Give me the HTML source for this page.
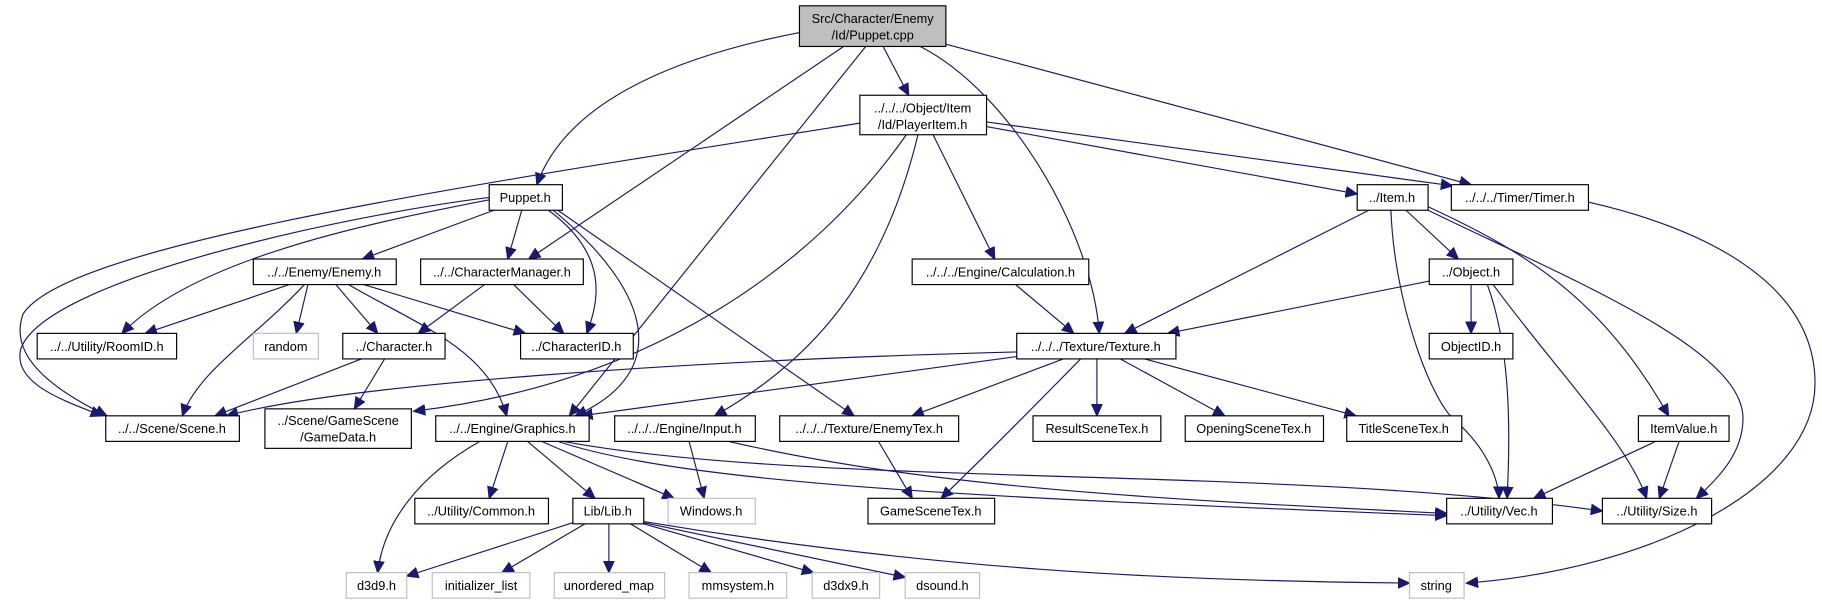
<!DOCTYPE html>
<html><head><meta charset="utf-8"><style>
html,body{margin:0;padding:0;background:#fff;}
svg{display:block;}
text{font-family:"Liberation Sans",sans-serif;font-size:11px;fill:#000;}
.e{fill:none;stroke:#191970;stroke-width:1;}
.b{fill:#fff;stroke:#000;stroke-width:1;}
.g{fill:#fff;stroke:#bfbfbf;stroke-width:1;}
</style></head><body>
<svg width="1822" height="604" viewBox="0 0 1568 520" preserveAspectRatio="none" xmlns="http://www.w3.org/2000/svg">
<defs><marker id="a" markerUnits="userSpaceOnUse" markerWidth="12" markerHeight="10" refX="10" refY="5" orient="auto"><path d="M0,0.5 L10,5 L0,9.5 z" fill="#191970" stroke="#191970"/></marker></defs>
<g marker-end="url(#a)">
<path class="e" d="M688,28 C600,45 490,80 462,159"/>
<path class="e" d="M726,40 L455,223"/>
<path class="e" d="M745,40 L490,358"/>
<path class="e" d="M760,40 L782,82"/>
<path class="e" d="M792,40 C870,80 940,200 946,287"/>
<path class="e" d="M814,38 L1266,159"/>
<path class="e" d="M740,106 C400,160 60,210 20,270 C5,310 55,340 92,358"/>
<path class="e" d="M780,116 C700,230 560,330 356,354"/>
<path class="e" d="M790,116 C760,240 700,310 615,358"/>
<path class="e" d="M803,116 L856,223"/>
<path class="e" d="M849,109 L1168,167"/>
<path class="e" d="M849,105 L1250,160"/>
<path class="e" d="M421,170 C300,185 40,240 18,300 C10,330 55,345 88,358"/>
<path class="e" d="M421,172 C330,190 170,220 105,287"/>
<path class="e" d="M425,181 L312,223"/>
<path class="e" d="M449,181 L437,223"/>
<path class="e" d="M472,181 C525,220 515,260 505,287"/>
<path class="e" d="M476,181 C560,250 580,320 495,358"/>
<path class="e" d="M480,181 L735,358"/>
<path class="e" d="M249,245 L125,287"/>
<path class="e" d="M265,245 L255,287"/>
<path class="e" d="M289,245 L325,287"/>
<path class="e" d="M313,245 L452,287"/>
<path class="e" d="M262,245 C220,290 170,320 157,358"/>
<path class="e" d="M300,245 C360,280 420,300 436,358"/>
<path class="e" d="M417,245 L360,287"/>
<path class="e" d="M442,245 L485,287"/>
<path class="e" d="M311,309 L185,358"/>
<path class="e" d="M331,309 L305,352"/>
<path class="e" d="M413,380 C360,410 330,450 325,493"/>
<path class="e" d="M437,380 L421,429"/>
<path class="e" d="M454,380 L512,429"/>
<path class="e" d="M466,380 L580,429"/>
<path class="e" d="M480,380 C600,420 900,430 1245,444"/>
<path class="e" d="M485,380 C700,420 1100,400 1379,440"/>
<path class="e" d="M593,380 L606,429"/>
<path class="e" d="M627,380 C800,420 1000,430 1245,442"/>
<path class="e" d="M756,380 L785,429"/>
<path class="e" d="M493,450 L350,496"/>
<path class="e" d="M505,450 L432,493"/>
<path class="e" d="M524,450 L524,493"/>
<path class="e" d="M541,450 L612,493"/>
<path class="e" d="M554,451 L700,493"/>
<path class="e" d="M554,450 L779,497"/>
<path class="e" d="M554,449 C800,490 1000,500 1213,502"/>
<path class="e" d="M874,245 L924,287"/>
<path class="e" d="M1178,181 L968,287"/>
<path class="e" d="M1197,181 C1200,260 1230,340 1250,360 C1285,390 1290,420 1290,429"/>
<path class="e" d="M1210,181 L1255,223"/>
<path class="e" d="M1229,178 C1320,220 1380,260 1436,358"/>
<path class="e" d="M1229,181 C1350,240 1500,300 1500,360 C1500,390 1480,410 1460,429"/>
<path class="e" d="M1367,174 C1480,200 1562,250 1562,330 C1562,420 1420,490 1262,502"/>
<path class="e" d="M1230,242 L1005,287"/>
<path class="e" d="M1266,245 L1266,287"/>
<path class="e" d="M1280,245 C1300,300 1300,370 1297,429"/>
<path class="e" d="M1285,245 C1340,320 1400,380 1417,429"/>
<path class="e" d="M875,303 C600,310 300,330 195,358"/>
<path class="e" d="M875,307 L500,358"/>
<path class="e" d="M915,309 L785,358"/>
<path class="e" d="M930,309 C880,360 840,400 810,429"/>
<path class="e" d="M944,309 L944,358"/>
<path class="e" d="M964,309 L1054,358"/>
<path class="e" d="M985,309 L1167,358"/>
<path class="e" d="M1425,380 L1320,429"/>
<path class="e" d="M1445,380 L1428,429"/>
</g>
<g text-anchor="middle">
<rect x="688" y="5" width="126" height="35" fill="#bfbfbf" stroke="#000"/>
<text x="751" y="20">Src/Character/Enemy</text><text x="751" y="34">/Id/Puppet.cpp</text>
<rect class="b" x="740" y="82" width="109" height="34"/>
<text x="794" y="97">../../../Object/Item</text><text x="794" y="111">/Id/PlayerItem.h</text>
<rect class="b" x="421" y="159" width="63" height="22"/><text x="452" y="174">Puppet.h</text>
<rect class="b" x="1168" y="159" width="61" height="22"/><text x="1198" y="174">../Item.h</text>
<rect class="b" x="1249" y="159" width="118" height="22"/><text x="1308" y="174">../../../Timer/Timer.h</text>
<rect class="b" x="218" y="223" width="123" height="22"/><text x="279" y="238">../../Enemy/Enemy.h</text>
<rect class="b" x="362" y="223" width="140" height="22"/><text x="432" y="238">../../CharacterManager.h</text>
<rect class="b" x="785" y="223" width="152" height="22"/><text x="861" y="238">../../../Engine/Calculation.h</text>
<rect class="b" x="1230" y="223" width="72" height="22"/><text x="1266" y="238">../Object.h</text>
<rect class="b" x="32" y="287" width="120" height="22"/><text x="92" y="302">../../Utility/RoomID.h</text>
<rect class="g" x="218" y="287" width="56" height="22"/><text x="246" y="302">random</text>
<rect class="b" x="295" y="287" width="88" height="22"/><text x="339" y="302">../Character.h</text>
<rect class="b" x="448" y="287" width="97" height="22"/><text x="496" y="302">../CharacterID.h</text>
<rect class="b" x="875" y="287" width="137" height="22"/><text x="943" y="302">../../../Texture/Texture.h</text>
<rect class="b" x="1230" y="287" width="72" height="22"/><text x="1266" y="302">ObjectID.h</text>
<rect class="b" x="91" y="358" width="115" height="22"/><text x="148" y="373">../../Scene/Scene.h</text>
<rect class="b" x="228" y="352" width="126" height="34"/>
<text x="291" y="366">../Scene/GameScene</text><text x="291" y="380">/GameData.h</text>
<rect class="b" x="375" y="358" width="132" height="22"/><text x="441" y="373">../../Engine/Graphics.h</text>
<rect class="b" x="529" y="358" width="121" height="22"/><text x="589" y="373">../../../Engine/Input.h</text>
<rect class="b" x="671" y="358" width="154" height="22"/><text x="748" y="373">../../../Texture/EnemyTex.h</text>
<rect class="b" x="889" y="358" width="110" height="22"/><text x="944" y="373">ResultSceneTex.h</text>
<rect class="b" x="1020" y="358" width="119" height="22"/><text x="1079" y="373">OpeningSceneTex.h</text>
<rect class="b" x="1159" y="358" width="99" height="22"/><text x="1208" y="373">TitleSceneTex.h</text>
<rect class="b" x="1410" y="358" width="78" height="22"/><text x="1449" y="373">ItemValue.h</text>
<rect class="b" x="357" y="429" width="115" height="22"/><text x="414" y="444">../Utility/Common.h</text>
<rect class="b" x="493" y="429" width="61" height="22"/><text x="523" y="444">Lib/Lib.h</text>
<rect class="g" x="575" y="429" width="75" height="22"/><text x="612" y="444">Windows.h</text>
<rect class="b" x="747" y="429" width="109" height="22"/><text x="801" y="444">GameSceneTex.h</text>
<rect class="b" x="1245" y="429" width="91" height="22"/><text x="1290" y="444">../Utility/Vec.h</text>
<rect class="b" x="1379" y="429" width="94" height="22"/><text x="1426" y="444">../Utility/Size.h</text>
<rect class="g" x="298" y="493" width="52" height="22"/><text x="324" y="508">d3d9.h</text>
<rect class="g" x="372" y="493" width="84" height="22"/><text x="414" y="508">initializer_list</text>
<rect class="g" x="477" y="493" width="95" height="22"/><text x="524" y="508">unordered_map</text>
<rect class="g" x="593" y="493" width="84" height="22"/><text x="635" y="508">mmsystem.h</text>
<rect class="g" x="699" y="493" width="58" height="22"/><text x="728" y="508">d3dx9.h</text>
<rect class="g" x="779" y="493" width="64" height="22"/><text x="811" y="508">dsound.h</text>
<rect class="g" x="1213" y="493" width="47" height="22"/><text x="1236" y="508">string</text>
</g>
</svg>
</body></html>
